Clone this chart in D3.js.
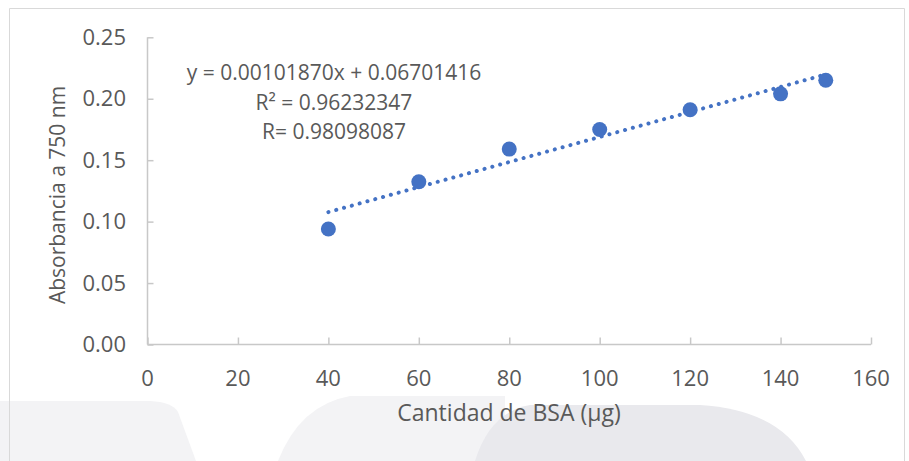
<!DOCTYPE html>
<html>
<head>
<meta charset="utf-8">
<script src="https://cdn.jsdelivr.net/npm/d3@7"></script>
<style>
  html, body { margin: 0; padding: 0; background: #ffffff; }
  svg { display: block; }
  text { font-family: "Open Sans", "Noto Sans", sans-serif; fill: #595959; }
</style>
</head>
<body>
<svg id="chart" width="909" height="461"></svg>
<script>
// BSA calibration data: amount (µg) vs absorbance at 750 nm
const bsaAmount = [40, 60, 80, 100, 120, 140, 150];
const absorbance = [0.094, 0.1325, 0.159, 0.175, 0.191, 0.204, 0.215];

// Linear fit reported on the chart
const fitSlope = 0.00101870;
const fitIntercept = 0.06701416;
const fitLabels = ["y = 0.00101870x + 0.06701416", "R² = 0.96232347", "R= 0.98098087"];

const xTicks = [0, 20, 40, 60, 80, 100, 120, 140, 160];
const yTicks = [0, 0.05, 0.10, 0.15, 0.20, 0.25];

const xTitle = "Cantidad de BSA (μg)";
const yTitle = "Absorbancia a 750 nm";

const svg = d3.select("#chart");

// faint page background shapes along the bottom edge
const bg = svg.append("g");
bg.append("path")
  .attr("d", "M0,401 L150,401 Q172,402 178,412 L196,461 L0,461 Z")
  .attr("fill", "#f3f3f5");
bg.append("path")
  .attr("d", "M278,461 Q300,405 350,396 L505,396 L505,461 Z")
  .attr("fill", "#f3f3f5");
bg.append("path")
  .attr("d", "M475,461 Q490,412 530,405 L700,405 Q780,410 806,461 Z")
  .attr("fill", "#e9e9ed");

// chart area border
svg.append("path")
  .attr("d", "M9.5,461 L9.5,8.5 L904.5,8.5 L904.5,461")
  .attr("fill", "none")
  .attr("stroke", "#d9d9d9")
  .attr("stroke-width", 1);

const x = d3.scaleLinear().domain([0, 160]).range([147.5, 871]);
const y = d3.scaleLinear().domain([0, 0.25]).range([344.5, 37.3]);

const axisColor = "#c8c8c8";

// y axis: ticks pointing into the plot
const yAxis = svg.append("g")
  .attr("transform", `translate(${x(0)},0)`)
  .call(d3.axisRight(y).tickValues(yTicks).tickSize(6).tickFormat(""));
yAxis.select(".domain").remove();
yAxis.selectAll("line").attr("stroke", axisColor).attr("stroke-width", 1.5);
svg.append("line")
  .attr("x1", x(0)).attr("x2", x(0))
  .attr("y1", y(0.25)).attr("y2", y(0))
  .attr("stroke", axisColor).attr("stroke-width", 1.5);

svg.append("g").selectAll("text")
  .data(yTicks)
  .join("text")
  .attr("x", 126)
  .attr("y", d => y(d))
  .attr("dy", "0.35em")
  .attr("text-anchor", "end")
  .attr("font-size", 22)
  .text(d => d3.format(".2f")(d));

// x axis: ticks pointing up into the plot
const xAxis = svg.append("g")
  .attr("transform", `translate(0,${y(0)})`)
  .call(d3.axisTop(x).tickValues(xTicks).tickSize(7).tickFormat(""));
xAxis.select(".domain").remove();
xAxis.selectAll("line").attr("stroke", axisColor).attr("stroke-width", 1.5);
svg.append("line")
  .attr("x1", x(0)).attr("x2", x(160))
  .attr("y1", y(0)).attr("y2", y(0))
  .attr("stroke", axisColor).attr("stroke-width", 1.5);

svg.append("g").selectAll("text")
  .data(xTicks)
  .join("text")
  .attr("x", d => x(d))
  .attr("y", 378)
  .attr("dy", "0.35em")
  .attr("text-anchor", "middle")
  .attr("font-size", 22)
  .text(d => d);

// axis titles
svg.append("text")
  .attr("x", 509)
  .attr("y", 413)
  .attr("dy", "0.35em")
  .attr("text-anchor", "middle")
  .attr("font-size", 23)
  .text(xTitle);

svg.append("text")
  .attr("transform", `translate(58,195) rotate(-90)`)
  .attr("dy", "0.35em")
  .attr("text-anchor", "middle")
  .attr("font-size", 21)
  .text(yTitle);

// dotted trend line from the fitted equation
const xMin = d3.min(bsaAmount), xMax = d3.max(bsaAmount);
svg.append("line")
  .attr("x1", x(xMin)).attr("y1", y(fitSlope * xMin + fitIntercept))
  .attr("x2", x(xMax)).attr("y2", y(fitSlope * xMax + fitIntercept))
  .attr("stroke", "#4472c4")
  .attr("stroke-width", 4)
  .attr("stroke-linecap", "round")
  .attr("stroke-dasharray", "0.1 8");

// data points
svg.append("g").selectAll("circle")
  .data(bsaAmount.map((d, i) => [d, absorbance[i]]))
  .join("circle")
  .attr("cx", d => x(d[0]))
  .attr("cy", d => y(d[1]))
  .attr("r", 7.5)
  .attr("fill", "#4472c4");

// equation and fit statistics
svg.append("g").selectAll("text")
  .data(fitLabels)
  .join("text")
  .attr("x", 334)
  .attr("y", (d, i) => 73 + i * 29.5)
  .attr("dy", "0.35em")
  .attr("text-anchor", "middle")
  .attr("font-size", 21)
  .text(d => d);
</script>
</body>
</html>
